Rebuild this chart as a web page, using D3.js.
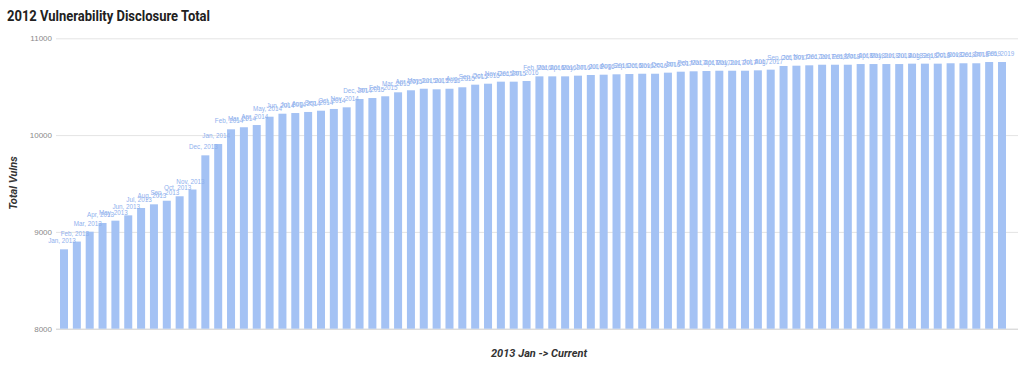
<!DOCTYPE html>
<html>
<head>
<meta charset="utf-8">
<script src="https://d3js.org/d3.v7.min.js"></script>
<style>
  body { margin: 0; background: #fff; }
  svg { display: block; }
</style>
</head>
<body>
<div id="chart"></div>
<script>
var months = [
  "Jan, 2013","Feb, 2013","Mar, 2013","Apr, 2013","May, 2013","Jun, 2013","Jul, 2013","Aug, 2013","Sep, 2013","Oct, 2013","Nov, 2013","Dec, 2013",
  "Jan, 2014","Feb, 2014","Mar, 2014","Apr, 2014","May, 2014","Jun, 2014","Jul, 2014","Aug, 2014","Sep, 2014","Oct, 2014","Nov, 2014","Dec, 2014",
  "Jan, 2015","Feb, 2015","Mar, 2015","Apr, 2015","May, 2015","Jun, 2015","Jul, 2015","Aug, 2015","Sep, 2015","Oct, 2015","Nov, 2015","Dec, 2015",
  "Jan, 2016","Feb, 2016","Mar, 2016","Apr, 2016","May, 2016","Jun, 2016","Jul, 2016","Aug, 2016","Sep, 2016","Oct, 2016","Nov, 2016","Dec, 2016",
  "Jan, 2017","Feb, 2017","Mar, 2017","Apr, 2017","May, 2017","Jun, 2017","Jul, 2017","Aug, 2017","Sep, 2017","Oct, 2017","Nov, 2017","Dec, 2017",
  "Jan, 2018","Feb, 2018","Mar, 2018","Apr, 2018","May, 2018","Jun, 2018","Jul, 2018","Aug, 2018","Sep, 2018","Oct, 2018","Nov, 2018","Dec, 2018",
  "Jan, 2019","Feb, 2019"
];

var totals = [
  8820, 8900, 9002, 9092, 9116, 9171, 9247, 9285, 9322, 9368, 9438, 9791,
  9908, 10060, 10081, 10104, 10190, 10221, 10228, 10239, 10252, 10270, 10287, 10373,
  10383, 10401, 10442, 10463, 10479, 10473, 10479, 10494, 10521, 10531, 10552, 10552,
  10559, 10607, 10607, 10607, 10614, 10621, 10624, 10628, 10631, 10634, 10634, 10645,
  10655, 10659, 10662, 10665, 10665, 10665, 10669, 10676, 10714, 10717, 10721, 10727,
  10727, 10727, 10734, 10734, 10734, 10734, 10738, 10738, 10738, 10742, 10742, 10742,
  10755, 10755
];

var yTicks = [8000, 9000, 10000, 11000];

var width = 1024, height = 368;
var barColor = "#a4c2f4";

var svg = d3.select("#chart").append("svg")
    .attr("width", width)
    .attr("height", height);

var x = d3.scaleBand()
    .domain(months)
    .range([51, 1015])
    .paddingInner(0.377)
    .paddingOuter(0.7);

var y = d3.scaleLinear()
    .domain([8000, 11000])
    .range([328.7, 38.3]);

// title
svg.append("text")
    .attr("x", 7)
    .attr("y", 21)
    .attr("textLength", 203)
    .attr("lengthAdjust", "spacingAndGlyphs")
    .style("font-family", "Roboto, sans-serif")
    .style("font-weight", "bold")
    .style("font-size", "14px")
    .style("fill", "#212121")
    .text("2012 Vulnerability Disclosure Total");

// grid + y labels
var yAxis = svg.append("g")
    .attr("transform", "translate(56,0)")
    .call(d3.axisLeft(y).tickValues(yTicks).tickSize(-962).tickSizeOuter(0).tickPadding(4).tickFormat(d3.format("d")));
yAxis.select(".domain").remove();
yAxis.selectAll(".tick line")
    .attr("stroke", function(d) { return d === 8000 ? "#cccccc" : "#e4e4e4"; })
    .attr("stroke-width", 1);
yAxis.selectAll(".tick text")
    .style("font-family", "Arial, 'Liberation Sans', sans-serif")
    .style("font-size", "8px")
    .style("fill", "#8a8a8a");

// bars
svg.append("g").selectAll("rect")
    .data(totals)
    .enter()
    .append("rect")
    .attr("x", function(d, i) { return x(months[i]); })
    .attr("y", function(d) { return y(d); })
    .attr("width", x.bandwidth())
    .attr("height", function(d) { return y(8000) - y(d); })
    .attr("fill", barColor);

// month labels above bars
svg.append("g").selectAll("text")
    .data(totals)
    .enter()
    .append("text")
    .attr("x", function(d, i) { return x(months[i]) + x.bandwidth() / 2 - 2; })
    .attr("y", function(d) { return y(d) - 6; })
    .attr("text-anchor", "middle")
    .style("font-family", "Arial, 'Liberation Sans', sans-serif")
    .style("font-size", "6.3px")
    .style("fill", "#8fb1ee")
    .text(function(d, i) { return months[i]; });

// axis titles
svg.append("text")
    .attr("transform", "translate(17,183) rotate(-90)")
    .attr("text-anchor", "middle")
    .style("font-family", "Roboto, sans-serif")
    .style("font-weight", "bold")
    .style("font-style", "italic")
    .style("font-size", "11px")
    .style("fill", "#333")
    .text("Total Vulns");

svg.append("text")
    .attr("x", 539)
    .attr("y", 357)
    .attr("text-anchor", "middle")
    .style("font-family", "Roboto, sans-serif")
    .style("font-weight", "bold")
    .style("font-style", "italic")
    .style("font-size", "11px")
    .style("fill", "#333")
    .text("2013 Jan -> Current");
</script>
</body>
</html>
